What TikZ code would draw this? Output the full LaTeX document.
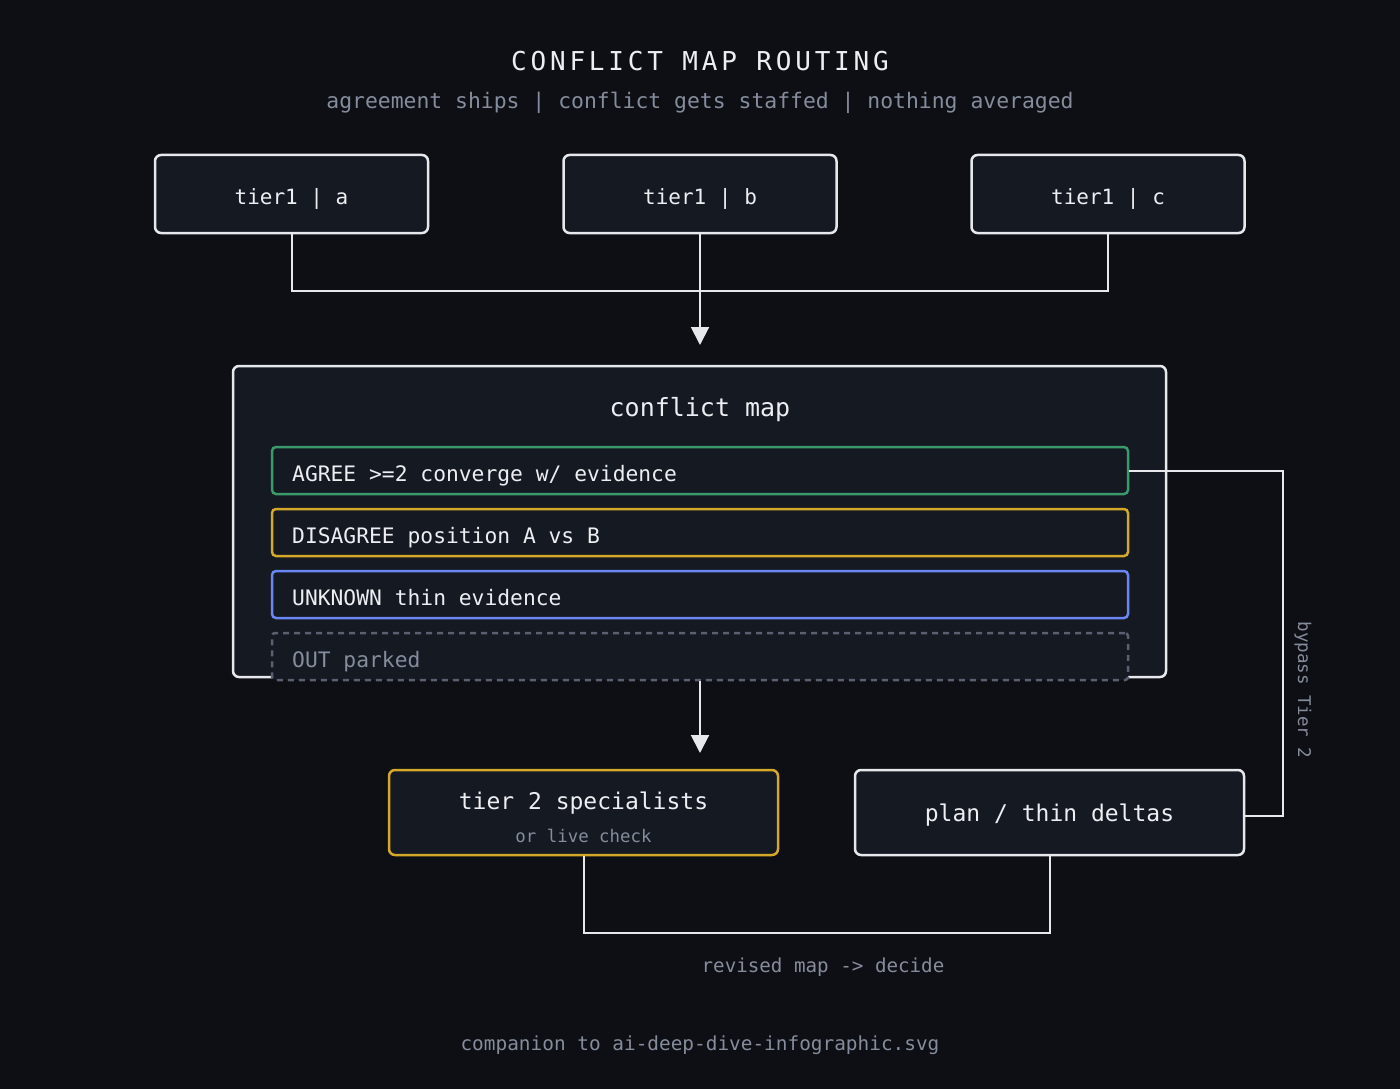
\documentclass[tikz,border=0pt]{standalone}
\usepackage{fontspec}
\setmonofont{DejaVu Sans Mono}
\usetikzlibrary{arrows.meta}
\definecolor{bg}{HTML}{0D0F14}
\definecolor{boxfill}{HTML}{151922}
\definecolor{stroke}{HTML}{E6E8EC}
\definecolor{txt}{HTML}{ECEEF2}
\definecolor{muted}{HTML}{858C9C}
\definecolor{agreeC}{HTML}{3A9A6A}
\definecolor{disC}{HTML}{D4A828}
\definecolor{unkC}{HTML}{6A86F2}
\definecolor{outC}{HTML}{5A6070}
\newcommand{\fs}[1]{\fontsize{#1}{#1}\selectfont\ttfamily}
\begin{document}
\begin{tikzpicture}[x=1pt,y=-1pt,
  box/.style={draw=stroke,fill=boxfill,line width=2.5pt,rounded corners=6pt,inner sep=0pt,text=txt},
  tbox/.style={box,minimum width=273pt,minimum height=78pt},
  rowbox/.style={fill=boxfill,line width=2.5pt,rounded corners=4pt,minimum height=47pt,minimum width=856pt,inner sep=0pt},
  rowtxt/.style={anchor=west,inner sep=0pt,text=txt,font=\fs{21.3}},
  lbl/.style={inner sep=0pt,text=txt},
  wire/.style={draw=stroke,line width=2pt},
  arr/.style={wire,-{Triangle[width=18pt,length=18pt]}},
  mutedtxt/.style={text=muted,inner sep=0pt}
]
\useasboundingbox[fill=bg] (0,0) rectangle (1400,1089);

% title
\node[lbl] (title) at (700,61) {\fs{26}\addfontfeature{LetterSpace=14.6}CONFLICT MAP ROUTING};
\node[mutedtxt] (sub) at (700,103) {\fs{21.4}agreement ships | conflict gets staffed | nothing averaged};

% tier 1
\node[tbox] (ta) at (291.5,194) {};
\node[tbox] (tb) at (700,194) {};
\node[tbox] (tc) at (1108,194) {};
\node[lbl,font=\fs{21}] (tal) at (291.5,198.5) {tier1 | a};
\node[lbl,font=\fs{21}] (tbl) at (700,198.5) {tier1 | b};
\node[lbl,font=\fs{21}] (tcl) at (1108,198.5) {tier1 | c};

% conflict map
\node[box,minimum width=933pt,minimum height=311pt] (map) at (699.5,521.5) {};
\node[lbl] (maptitle) at (700,410) {\fs{25}conflict map};

\node[rowbox,draw=agreeC] (agree) at (700,470.5) {};
\node[rowbox,draw=disC] (dis) at (700,532.5) {};
\node[rowbox,draw=unkC] (unk) at (700,594.5) {};
\node[rowbox,draw=outC,dashed,dash pattern=on 6pt off 5pt,rounded corners=3pt] (out) at (700,656.5) {};
\node[rowtxt] (agreel) at (292,475.5) {AGREE >=2 converge w/ evidence};
\node[rowtxt] (disl) at (292,537.5) {DISAGREE position A vs B};
\node[rowtxt] (unkl) at (292,597.5) {UNKNOWN thin evidence};
\node[rowtxt,text=muted] (outl) at (292,661.5) {OUT parked};

% bottom boxes
\node[box,draw=disC,minimum width=389pt,minimum height=85pt] (t2) at (583.5,812.5) {};
\node[lbl] (t2a) at (583.5,803.5) {\fs{23}tier 2 specialists};
\node[mutedtxt] (t2b) at (583.5,835.5) {\fs{17.4}or live check};
\node[box,minimum width=389pt,minimum height=85pt] (plan) at (1049.5,812.5) {};
\node[lbl] (planl) at (1049.5,815.5) {\fs{23}plan / thin deltas};

% connectors
\coordinate (j) at (700,291);
\draw[wire] (ta.south) |- (j) -| (tc.south);
\draw[arr] (tb.south) -- (700,345) coordinate (mapin);
\draw[arr] (out.south) -- (700,753) coordinate (t2in);
\draw[wire] (agree.east) -- (1283,470.5) coordinate (bp1) -- (1283,816) coordinate (bp2) -- (plan.east |- bp2);
\node[mutedtxt,rotate=-90] (bptxt) at (1303,690) {\fs{17.5}bypass Tier 2};
\coordinate (bj) at (816,933);
\draw[wire] (t2.south) |- (bj) -| (plan.south);
\node[mutedtxt] (rev) at (823,967.5) {\fs{19.2}revised map -> decide};
\node[mutedtxt] (comp) at (700,1045.5) {\fs{19.4}companion to ai-deep-dive-infographic.svg};
\end{tikzpicture}
\end{document}
